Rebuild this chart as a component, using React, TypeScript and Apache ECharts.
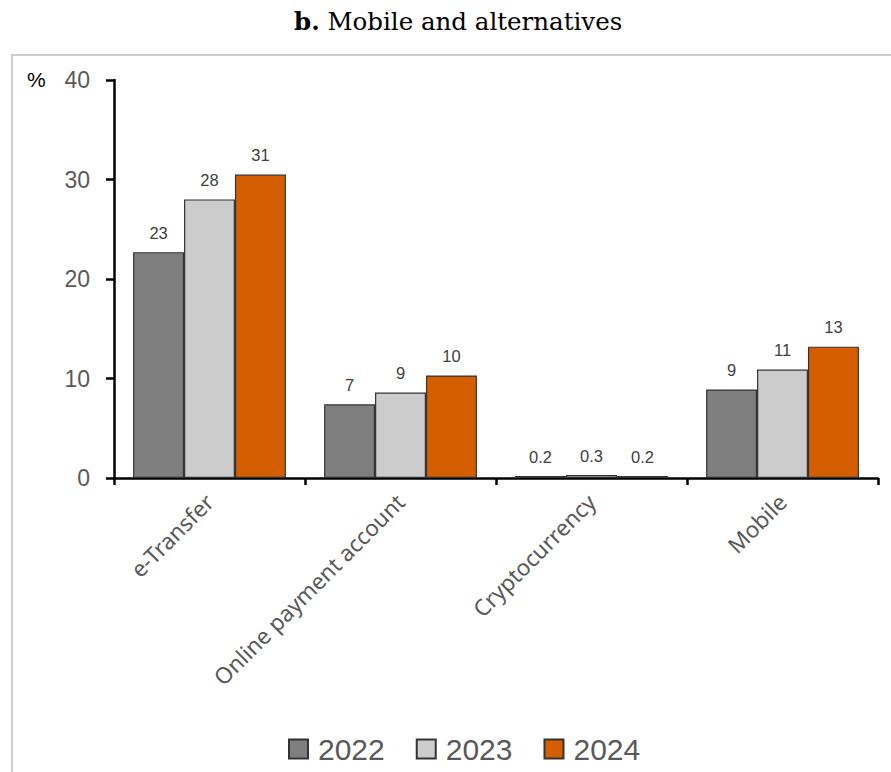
import React, { useEffect, useRef } from "react";
import * as echarts from "echarts";

const categories = ["e-Transfer", "Online payment account", "Cryptocurrency", "Mobile"];
const years = ["2022", "2023", "2024"];
const values2022 = [22.7, 7.4, 0.2, 8.9];
const values2023 = [28.0, 8.6, 0.3, 10.9];
const values2024 = [30.5, 10.3, 0.2, 13.2];
const yTicks = [0, 10, 20, 30, 40];
const colors = ["#7f7f7f", "#cccccc", "#d55e00"];

const fmt = (v: number) => (v < 1 ? v.toFixed(1) : String(Math.round(v)));

export default function App() {
  const ref = useRef<HTMLDivElement>(null);
  useEffect(() => {
    if (!ref.current) return;
    const chart = echarts.init(ref.current, undefined, { renderer: "svg" });
    const seriesData = [values2022, values2023, values2024];
    chart.setOption({
      animation: false,
      backgroundColor: "#ffffff",
      title: {
        text: "{b|b.} Mobile and alternatives",
        left: 289,
        top: 4,
        textStyle: {
          fontFamily: "DejaVu Serif",
          fontSize: 24.5,
          fontWeight: "normal",
          color: "#000000",
          rich: {
            b: { fontFamily: "DejaVu Serif", fontSize: 24.5, fontWeight: "bold", color: "#000000" },
          },
        },
      },
      graphic: [
        {
          type: "rect",
          shape: { x: 12, y: 55, width: 950, height: 800 },
          style: { fill: "none", stroke: "#bfbfbf", lineWidth: 1.5 },
          silent: true,
        },
        {
          type: "text",
          left: 27,
          top: 69,
          style: { text: "%", fontFamily: "Liberation Sans", fontSize: 21, fill: "#000000" },
        },
      ],
      grid: { left: 114, right: 13, top: 80, bottom: 294, containLabel: false },
      legend: {
        data: years,
        left: 283,
        top: 729,
        icon: "rect",
        itemWidth: 19,
        itemHeight: 19,
        itemGap: 31,
        textStyle: {
          fontFamily: "Liberation Sans",
          fontSize: 30,
          color: "#595959",
          padding: [0, 0, 0, 5],
        },
      },
      xAxis: {
        type: "category",
        data: categories,
        axisLine: { lineStyle: { color: "#000000", width: 2.5 } },
        axisTick: { show: true, length: 7, lineStyle: { color: "#000000", width: 2.5 } },
        axisLabel: {
          rotate: 45,
          margin: 20,
          fontFamily: "Noto Sans",
          fontSize: 22.5,
          color: "#595959",
        },
      },
      yAxis: {
        type: "value",
        min: 0,
        max: 40,
        interval: 10,
        axisLine: { show: true, lineStyle: { color: "#000000", width: 2.5 } },
        axisTick: { show: true, length: 8, lineStyle: { color: "#000000", width: 2.5 } },
        splitLine: { show: false },
        axisLabel: {
          margin: 24,
          fontFamily: "Liberation Sans",
          fontSize: 23,
          color: "#595959",
          formatter: (v: number) => (yTicks.includes(v) ? String(v) : ""),
        },
      },
      series: years.map((y, i) => ({
        name: y,
        type: "bar",
        data: seriesData[i],
        barGap: "0%",
        barCategoryGap: "20%",
        itemStyle: { color: colors[i], borderColor: "#333333", borderWidth: 1.2 },
        label: {
          show: true,
          position: "top",
          distance: 11,
          fontFamily: "Liberation Sans",
          fontSize: 16.5,
          color: "#404040",
          formatter: (p: any) => fmt(p.value),
        },
      })),
    });
    return () => chart.dispose();
  }, []);
  return (
    <div
      ref={ref}
      style={{ position: "fixed", left: 0, top: 0, width: 891, height: 772 }}
    />
  );
}
